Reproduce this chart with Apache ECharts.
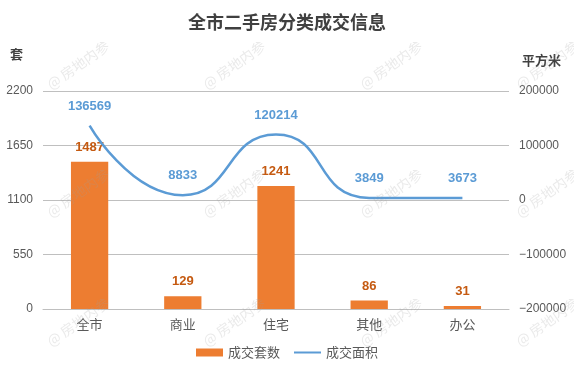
<!DOCTYPE html>
<html><head><meta charset="utf-8">
<script src="https://cdn.jsdelivr.net/npm/echarts@6/dist/echarts.min.js"></script>
<style>html,body{margin:0;padding:0;background:#fff}#c{width:574px;height:389px}</style>
</head><body><div id="c"></div>
<script>
const categories = ['全市', '商业', '住宅', '其他', '办公'];
const countValues = [1487, 129, 1241, 86, 31];
const areaValues = [136569, 8833, 120214, 3849, 3673];
const leftTicks = {min: 0, max: 2200, interval: 550};
const rightTicks = {min: -200000, max: 200000, interval: 100000};
const seriesNames = ['成交套数', '成交面积'];
const titleText = '全市二手房分类成交信息';
const leftUnit = '套';
const rightUnit = '平方米';
const watermark = '@ 房地内参';

const FONT = '"Liberation Sans", "Noto Sans CJK SC", sans-serif';
const chart = echarts.init(document.getElementById('c'));

const wmX = [78, 234, 391, 547];
const wmY = [65, 193, 322];
const graphics = [];
wmX.forEach(x => wmY.forEach(y => {
  graphics.push({
    type: 'text', x: x, y: y, rotation: 35 * Math.PI / 180, z: 100, silent: true,
    style: {text: watermark, x: 0, y: 0, align: 'center', verticalAlign: 'middle',
      fill: 'rgba(160,160,160,0.22)', font: '14px "Noto Sans CJK SC", sans-serif'}
  });
}));
graphics.push({type: 'text', left: 10, top: 48, style: {text: leftUnit, fill: '#404040',
  font: 'bold 13px "Noto Sans CJK SC", sans-serif'}});
graphics.push({type: 'text', left: 522, top: 54, style: {text: rightUnit, fill: '#404040',
  font: 'bold 13px "Noto Sans CJK SC", sans-serif'}});

chart.setOption({
  animation: false,
  textStyle: {fontFamily: FONT},
  title: {text: titleText, left: 'center', top: 8,
    textStyle: {fontSize: 18, fontWeight: 'bold', color: '#404040', fontFamily: '"Noto Sans CJK SC", sans-serif'}},
  grid: {left: 43, right: 65, top: 91, bottom: 80, containLabel: false},
  legend: {bottom: 25, left: 'center', itemWidth: 27, itemHeight: 8, itemGap: 13,
    textStyle: {fontSize: 13, color: '#595959', fontFamily: '"Noto Sans CJK SC", sans-serif'},
    data: [{name: seriesNames[0], icon: 'rect'}, {name: seriesNames[1], itemStyle: {opacity: 0}}]},
  xAxis: {type: 'category', data: categories,
    axisLine: {show: true, lineStyle: {color: '#bfbfbf'}}, axisTick: {show: false},
    axisLabel: {color: '#595959', fontSize: 13, margin: 9, fontFamily: '"Noto Sans CJK SC", sans-serif'}},
  yAxis: [
    {type: 'value', min: leftTicks.min, max: leftTicks.max, interval: leftTicks.interval,
      axisLine: {show: false}, axisTick: {show: false},
      axisLabel: {color: '#595959', fontSize: 12, margin: 10, formatter: v => String(v)},
      splitLine: {lineStyle: {color: '#bfbfbf', width: 1}}},
    {type: 'value', min: rightTicks.min, max: rightTicks.max, interval: rightTicks.interval,
      axisLine: {show: false}, axisTick: {show: false},
      axisLabel: {color: '#595959', fontSize: 12, margin: 10, formatter: v => v < 0 ? '−' + Math.abs(v) : String(v)},
      splitLine: {show: false}}
  ],
  series: [
    {name: seriesNames[0], type: 'bar', data: countValues, yAxisIndex: 0, barWidth: '40%',
      itemStyle: {color: '#ED7D31'},
      label: {show: true, position: 'top', distance: 8, color: '#C55A11', fontWeight: 'bold', fontSize: 13}},
    {name: seriesNames[1], type: 'line', data: areaValues, yAxisIndex: 1, smooth: 0.55,
      symbol: 'circle', symbolSize: 2, showSymbol: true,
      lineStyle: {color: '#5B9BD5', width: 2.5}, itemStyle: {color: 'rgba(0,0,0,0)', borderWidth: 0},
      label: {show: true, position: 'top', distance: 12, color: '#5B9BD5', fontWeight: 'bold', fontSize: 13}}
  ],
  graphic: graphics
});
</script></body></html>
